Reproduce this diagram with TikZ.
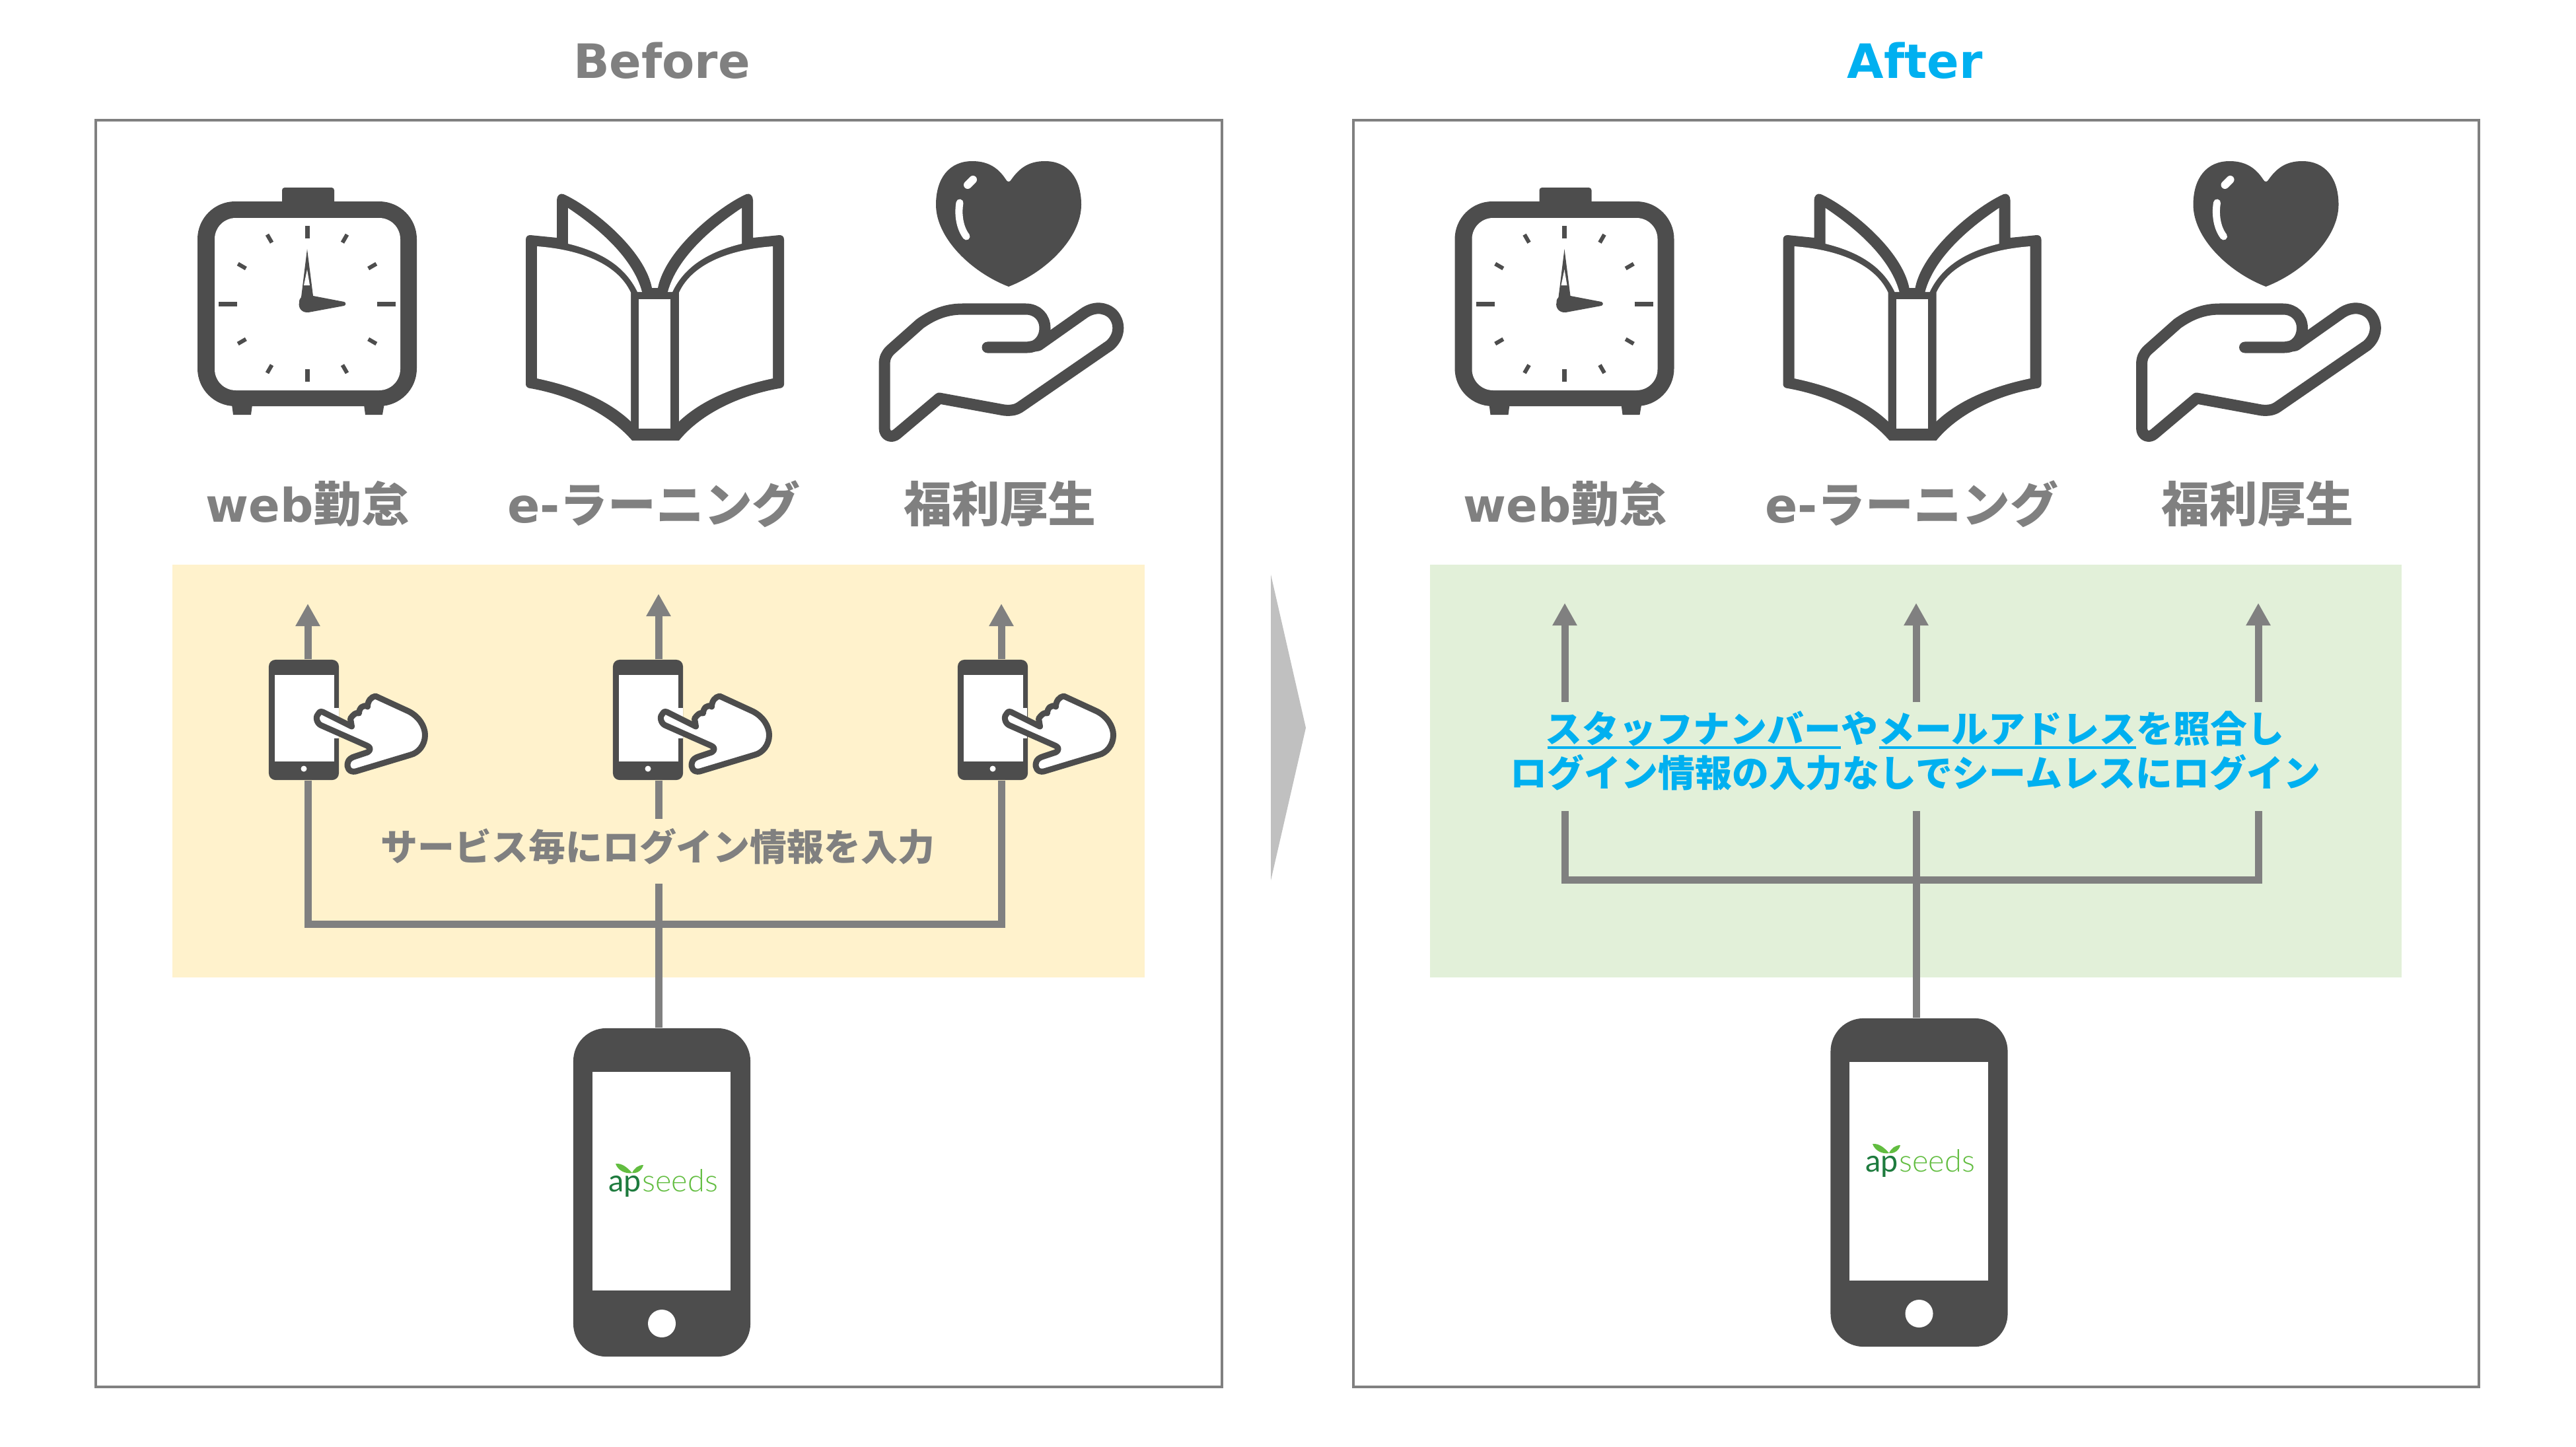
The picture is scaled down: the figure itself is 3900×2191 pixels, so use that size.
\documentclass[tikz,border=0pt]{standalone}
\usepackage{fontspec}
\usetikzlibrary{arrows.meta,calc}
\newfontfamily\jafont{Noto Sans CJK JP}
\newfontfamily\latfont{DejaVu Sans}
\newfontfamily\logofont{Lato Light}
\newfontfamily\logofontb{Lato}
\definecolor{dk}{HTML}{4D4D4D}
\definecolor{gr}{HTML}{808080}
\definecolor{bl}{HTML}{00B0F0}
\definecolor{yel}{HTML}{FFF2CC}
\definecolor{grn}{HTML}{E2F0D9}
\definecolor{lg1}{HTML}{1E7B3E}
\definecolor{lg2}{HTML}{62BD40}
\tikzset{
  panel/.style={draw=gr,line width=0.04cm,fill=white},
  conn/.style={draw=gr,line width=0.11cm,line cap=butt},
  arrowconn/.style={conn,-{Triangle[length=0.34cm,width=0.35cm]}},
  titlelabel/.style={font=\latfont\bfseries\fontsize{20.4pt}{24pt}\selectfont,inner sep=0pt},
  svc/.style={text=gr,inner sep=0pt,font=\bfseries\fontsize{20.7pt}{24pt}\selectfont},
  note/.style={inner sep=0pt,font=\jafont\bfseries\fontsize{15.9pt}{18pt}\selectfont},
  bigphone/.style={fill=dk,rounded corners=0.5cm,minimum width=2.68cm,minimum height=4.97cm,inner sep=0pt},
  bigscreen/.style={fill=white,minimum width=2.09cm,minimum height=3.31cm,inner sep=0pt},
  bigbutton/.style={fill=white,circle,minimum size=0.42cm,inner sep=0pt},
  smallphone/.style={fill=dk,rounded corners=0.1cm,minimum width=1.06cm,minimum height=1.82cm,inner sep=0pt},
  smallscreen/.style={fill=white,minimum width=0.9cm,minimum height=1.31cm,inner sep=0pt},
  smallbutton/.style={fill=white,circle,minimum size=0.09cm,inner sep=0pt},
  logopart/.style={inner sep=0pt,font=\logofont\fontsize{13.3pt}{16pt}\selectfont},
  logoparta/.style={inner sep=0pt,font=\logofontb\fontsize{13.3pt}{16pt}\selectfont}
}
\newcommand{\iconset}{%
  % clock
  \fill[dk,rounded corners=0.04cm] (427,284) rectangle (506,320);
  \fill[dk] (350,605) -- (383,605) -- (380,628) -- (353,628) -- cycle;
  \fill[dk] (550,605) -- (583,605) -- (579,628) -- (553,628) -- cycle;
  \fill[dk,rounded corners=0.57cm] (299,305) rectangle (631,615);
  \fill[white,rounded corners=0.32cm] (325,330) rectangle (606,591);
  \foreach \a in {30,60,120,150,210,240,300,330}{
    \draw[dk,line width=0.06cm] ({465+107*sin(\a)},{460-107*cos(\a)}) -- ({465+121*sin(\a)},{460-121*cos(\a)});
  }
  \foreach \a in {0,180}{
    \draw[dk,line width=0.07cm] ({465+99*sin(\a)},{460-99*cos(\a)}) -- ({465+118*sin(\a)},{460-118*cos(\a)});
  }
  \foreach \a in {90,270}{
    \draw[dk,line width=0.07cm] ({465+106*sin(\a)},{460-106*cos(\a)}) -- ({465+134*sin(\a)},{460-134*cos(\a)});
  }
  \fill[dk] (465,377) -- (474,448) -- (521,457) .. controls (524,458) and (524,462) .. (521,463) -- (467,473) .. controls (457,474) and (451,466) .. (453,458) .. controls (453,454) and (454,452) .. (456,450) -- cycle;
  \fill[white] (465,408) -- (469,432) -- (460,432) -- cycle;
  % book
  \fill[dk,line join=round] (796,363) .. controls (796,358) and (799,356) .. (803,356) -- (843,360) -- (843,303) .. controls (843,296) and (848,292) .. (853,294) .. controls (890,310) and (975,375) .. (987,436) -- (996,436) .. controls (1008,375) and (1093,310) .. (1130,294) .. controls (1135,292) and (1140,296) .. (1140,303) -- (1140,360) -- (1180,356) .. controls (1184,356) and (1187,358) .. (1187,363) -- (1187,582) .. controls (1187,585) and (1184,588) .. (1180,588) .. controls (1113,600) and (1058,630) .. (1028,667) -- (957,667) .. controls (925,630) and (870,600) .. (803,588) .. controls (799,588) and (796,585) .. (796,582) -- cycle;
  \fill[white] (813,373) .. controls (880,378) and (935,400) .. (955,443) -- (955,638) .. controls (920,605) and (870,585) .. (813,573) -- cycle;
  \fill[white] (1170,373) .. controls (1103,378) and (1048,400) .. (1028,443) -- (1028,638) .. controls (1063,605) and (1113,585) .. (1170,573) -- cycle;
  \fill[white] (967,453) rectangle (1015,649);
  \fill[white] (860,315) -- (860,369) .. controls (905,380) and (945,400) .. (965,442) -- (972,442) .. controls (958,390) and (905,345) .. (860,315) -- cycle;
  \fill[white] (1123,315) -- (1123,369) .. controls (1078,380) and (1038,400) .. (1018,442) -- (1011,442) .. controls (1025,390) and (1078,345) .. (1123,315) -- cycle;
  % heart
  \fill[dk] (1527,434) .. controls (1470,412) and (1417,360) .. (1417,310) .. controls (1417,270) and (1437,244) .. (1472,244) .. controls (1497,244) and (1512,255) .. (1523,272) .. controls (1525,276) and (1529,276) .. (1531,272) .. controls (1543,255) and (1557,244) .. (1582,244) .. controls (1617,244) and (1637,270) .. (1637,310) .. controls (1637,360) and (1584,412) .. (1527,434) -- cycle;
  \draw[white,line width=0.12cm,line cap=round] (1465,280) -- (1473,272);
  \draw[white,line width=0.11cm,line cap=round] (1453,307) .. controls (1450,325) and (1453,345) .. (1463,358);
  % giving hand
  \draw[dk,line width=0.17cm,line cap=round,line join=round] (1495,526) -- (1555,526) .. controls (1572,526) and (1582,512) .. (1582,497) .. controls (1582,480) and (1570,468) .. (1553,468) -- (1457,468) .. controls (1430,468) and (1410,478) .. (1393,490) -- (1348,530) .. controls (1342,536) and (1339,542) .. (1339,552) -- (1339,648) .. controls (1339,660) and (1350,664) .. (1358,657) -- (1422,603) -- (1520,621) .. controls (1530,622) and (1538,621) .. (1545,616) -- (1680,523) .. controls (1695,510) and (1697,490) .. (1685,476) .. controls (1673,464) and (1655,464) .. (1640,475) -- (1572,523) -- (1555,526);
}
\newcommand{\pointhand}{%
  \fill[white] (505,1072) rectangle (514,1118);
  \filldraw[draw=dk,fill=white,line width=0.09cm,line join=round] (490,1078) -- (534,1100) -- (532,1088) .. controls (536,1082) and (541,1078) .. (545,1080) .. controls (545,1072) and (552,1066) .. (558,1070) .. controls (558,1062) and (563,1055) .. (570,1054) -- (620,1077) .. controls (636,1085) and (645,1100) .. (645,1113) .. controls (645,1128) and (635,1140) .. (623,1143) -- (540,1168) .. controls (530,1170) and (526,1162) .. (528,1155) .. controls (529,1150) and (533,1147) .. (540,1145) -- (558,1139) .. controls (564,1135) and (562,1131) .. (557,1129) -- (487,1098) .. controls (480,1094) and (479,1084) .. (484,1080) .. controls (486,1077) and (488,1077) .. (490,1078) -- cycle;
}
\newcommand{\logoleaves}{%
  \fill[lg2] (957,1776) .. controls (950,1768) and (942,1761) .. (932,1762) .. controls (935,1772) and (947,1778) .. (957,1776) -- cycle;
  \fill[lg2] (957,1776) .. controls (960,1769) and (966,1764) .. (974,1764) .. controls (972,1772) and (965,1777) .. (957,1776) -- cycle;
}
\begin{document}
\begin{tikzpicture}[x=0.01cm,y=-0.01cm]
\useasboundingbox (0,0) rectangle (3900,2191);
% frames and bands
\draw[panel] (145,182) rectangle (1850,2100);
\draw[panel] (2049,182) rectangle (3753,2100);
\fill[yel] (261,855) rectangle (1733,1480);
\fill[grn] (2165,855) rectangle (3636,1480);
\fill[gr!50!white] (1924,870) -- (1977,1102) -- (1924,1333) -- cycle;
% titles
\node[titlelabel,text=gr] (beforeT) at (1002,92) {Before};
\node[titlelabel,text=bl] (afterT) at (2899,92) {After};
% icons
\iconset
\begin{scope}[shift={(1903.5,0)}]\iconset\end{scope}
% service labels
\node[svc] (l1) at (466,763) {{\latfont\fontsize{20pt}{24pt}\selectfont web}{\jafont 勤怠}};
\node[svc] (l2) at (990,763) {{\latfont e-}{\jafont ラーニング}};
\node[svc] (l3) at (1514,763) {\jafont 福利厚生};
\node[svc] (r1) at (2370,763) {{\latfont\fontsize{20pt}{24pt}\selectfont web}{\jafont 勤怠}};
\node[svc] (r2) at (2894,763) {{\latfont e-}{\jafont ラーニング}};
\node[svc] (r3) at (3418,763) {\jafont 福利厚生};
% left phones
\node[bigphone] (bigL) at (1002,1805.5) {};
\node[bigscreen] (bigLs) at (1001.5,1788.5) {};
\node[bigbutton] (bigLb) at (1002,2004) {};
\node[smallphone] (p1) at (460,1090) {};
\node[smallscreen] (p1s) at (461,1087.5) {};
\node[smallbutton] (p1b) at (460,1164) {};
\node[smallphone] (p2) at (981,1090) {};
\node[smallscreen] (p2s) at (982,1087.5) {};
\node[smallbutton] (p2b) at (981,1164) {};
\node[smallphone] (p3) at (1503,1090) {};
\node[smallscreen] (p3s) at (1504,1087.5) {};
\node[smallbutton] (p3b) at (1503,1164) {};
\begin{scope}[shift={(-1.5,0)}]\pointhand\end{scope}
\begin{scope}[shift={(519.5,0)}]\pointhand\end{scope}
\begin{scope}[shift={(1040.5,0)}]\pointhand\end{scope}
% left connectors
\coordinate (t1) at (466,914);
\coordinate (t2) at (997,899);
\coordinate (t3) at (1516,914);
\coordinate (jL) at (997,1399);
\coordinate (gapTop) at (997,1240);
\coordinate (gapBot) at (997,1338);
\node[note,text=gr] (noteL) at (996,1282) {サービス毎にログイン情報を入力};
\draw[arrowconn] (t1 |- p1.north) -- (t1);
\draw[arrowconn] (t2 |- p2.north) -- (t2);
\draw[arrowconn] (t3 |- p3.north) -- (t3);
\draw[conn] (t2 |- p2.south) -- (gapTop);
\draw[conn] (jL |- bigL.north) -- (gapBot);
\draw[conn,line join=miter] (t1 |- p1.south) -- (t1 |- jL) -- (t3 |- jL) -- (t3 |- p3.south);
% right phone
\node[bigphone] (bigR) at (2905.5,1790.5) {};
\node[bigscreen] (bigRs) at (2905,1773.5) {};
\node[bigbutton] (bigRb) at (2905.5,1989) {};
% right connectors
\coordinate (u1) at (2369,913);
\coordinate (u2) at (2901,913);
\coordinate (u3) at (3419,913);
\coordinate (v1) at (2369,1063);
\coordinate (v2) at (2901,1063);
\coordinate (v3) at (3419,1063);
\coordinate (w1) at (2369,1228);
\coordinate (w2) at (2901,1228);
\coordinate (w3) at (3419,1228);
\coordinate (jR) at (2901,1332);
\draw[arrowconn] (v1) -- (u1);
\draw[arrowconn] (v2) -- (u2);
\draw[arrowconn] (v3) -- (u3);
\draw[conn] (jR |- bigR.north) -- (w2);
\draw[conn,line join=miter] (w1) -- (w1 |- jR) -- (w3 |- jR) -- (w3);
\node[note,text=bl] (noteR1) at (2899,1103) {スタッフナンバーやメールアドレスを照合し};
\node[note,text=bl] (noteR2) at (2900,1170) {ログイン情報の入力なしでシームレスにログイン};
\draw[bl,line width=0.035cm] (2343,1132) -- (2787,1132);
\draw[bl,line width=0.035cm] (2845,1132) -- (3234,1132);
% logos
\logoleaves
\node[logoparta,text=lg1,anchor=base west] (ap1) at (921,1804) {ap};
\node[logopart,text=lg2,anchor=base west] (se1) at (ap1.base east) {seeds};
\begin{scope}[shift={(1903,-30)}]
\logoleaves
\node[logoparta,text=lg1,anchor=base west] (ap2) at (921,1804) {ap};
\node[logopart,text=lg2,anchor=base west] (se2) at (ap2.base east) {seeds};
\end{scope}
\end{tikzpicture}
\end{document}
